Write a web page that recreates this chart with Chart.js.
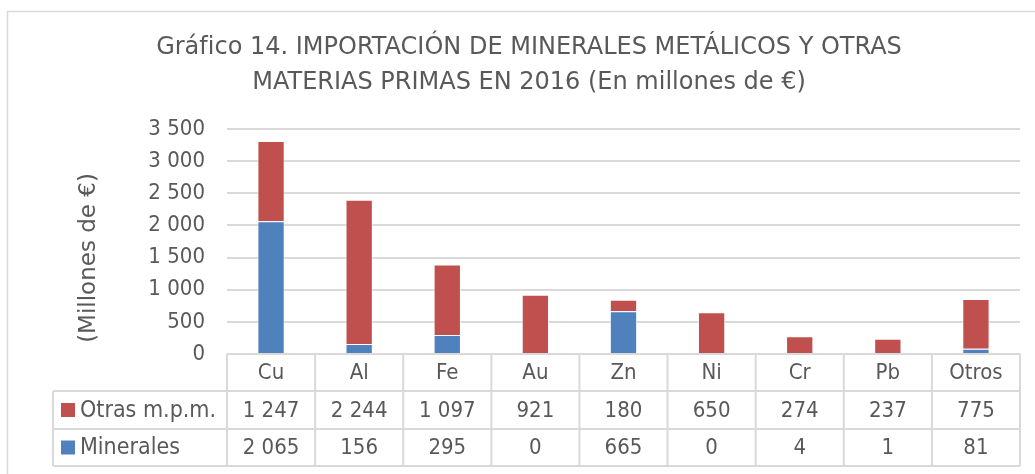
<!DOCTYPE html>
<html lang="es">
<head>
<meta charset="utf-8">
<title>Importación de minerales metálicos 2016</title>
<script src="https://cdn.jsdelivr.net/npm/chart.js@4/dist/chart.umd.min.js"></script>
<style>
  html, body { margin: 0; padding: 0; background: #fff; }
  #wrap { position: relative; width: 1035px; height: 474px; }
</style>
</head>
<body>
<div id="wrap"><canvas id="chart"></canvas></div>
<script>
// Importaciones 2016, millones de euros
const categories = ['Cu', 'Al', 'Fe', 'Au', 'Zn', 'Ni', 'Cr', 'Pb', 'Otros'];
const otrasMpm = [1247, 2244, 1097, 921, 180, 650, 274, 237, 775];
const minerales = [2065, 156, 295, 0, 665, 0, 4, 1, 81];
const yTicks = [0, 500, 1000, 1500, 2000, 2500, 3000, 3500];

const titleLines = [
    'Gráfico 14. IMPORTACIÓN DE MINERALES METÁLICOS Y OTRAS',
    'MATERIAS PRIMAS EN 2016 (En millones de €)'
];
const yTitle = '(Millones de €)';

const FONT = '"DejaVu Sans Condensed", "DejaVu Sans", sans-serif';
const WIDE = '"DejaVu Sans", sans-serif';
const TEXT = '#595959';
const LINE = '#d9d9d9';
const RED = '#c0504d';
const BLUE = '#4f81bd';

function fmt(n) {
    return String(n).replace(/\B(?=(\d{3})+(?!\d))/g, ' ');
}

// Frame, title, axis title and the data table under the plot
const decorations = {
    id: 'decorations',
    afterDraw(chart) {
        const ctx = chart.ctx;
        const area = chart.chartArea;
        const x = chart.scales.x;
        const colW = (area.right - area.left) / categories.length;
        const rowTop = area.bottom;
        const rowH = [37, 38, 37];
        const legendLeft = 53;

        ctx.save();

        // outer frame
        ctx.strokeStyle = LINE;
        ctx.lineWidth = 1.5;
        ctx.strokeRect(7.5, 11.5, 1040, 480);

        // title
        ctx.fillStyle = TEXT;
        ctx.font = '24px ' + WIDE;
        ctx.textAlign = 'center';
        ctx.textBaseline = 'middle';
        ctx.fillText(titleLines[0], 529, 48);
        ctx.fillText(titleLines[1], 529, 83);

        // y axis title
        ctx.save();
        ctx.translate(89, 258);
        ctx.rotate(-Math.PI / 2);
        ctx.font = '23px ' + WIDE;
        ctx.fillText(yTitle, 0, 0);
        ctx.restore();

        // table grid
        const y0 = rowTop;
        const y1 = y0 + rowH[0];
        const y2 = y1 + rowH[1];
        const y3 = y2 + rowH[2];
        ctx.strokeStyle = LINE;
        ctx.lineWidth = 2;
        ctx.beginPath();
        ctx.moveTo(area.left, y0); ctx.lineTo(area.right, y0);
        [y1, y2, y3].forEach(y => { ctx.moveTo(legendLeft, y); ctx.lineTo(area.right, y); });
        ctx.moveTo(legendLeft, y1); ctx.lineTo(legendLeft, y3);
        for (let i = 0; i <= categories.length; i++) {
            const cx = area.left + i * colW;
            ctx.moveTo(cx, y0); ctx.lineTo(cx, y3);
        }
        ctx.stroke();

        // table text
        ctx.fillStyle = TEXT;
        ctx.font = '22px ' + FONT;
        ctx.textAlign = 'center';
        categories.forEach((c, i) => {
            const cx = x.getPixelForValue(i);
            ctx.fillText(c, cx, (y0 + y1) / 2 + 1);
            ctx.fillText(fmt(otrasMpm[i]), cx, (y1 + y2) / 2 + 1);
            ctx.fillText(fmt(minerales[i]), cx, (y2 + y3) / 2 + 1);
        });

        // legend keys
        const rows = [['Otras m.p.m.', RED, (y1 + y2) / 2], ['Minerales', BLUE, (y2 + y3) / 2]];
        ctx.font = '23px ' + FONT;
        rows.forEach(([label, color, cy]) => {
            ctx.fillStyle = color;
            ctx.fillRect(61, cy - 7, 14, 14);
            ctx.fillStyle = TEXT;
            ctx.textAlign = 'left';
            ctx.fillText(label, 80, cy + 1);
        });

        ctx.restore();
    }
};

new Chart(document.getElementById('chart'), {
    type: 'bar',
    data: {
        labels: categories,
        datasets: [
            {
                label: 'Minerales',
                data: minerales,
                backgroundColor: BLUE,
                borderColor: 'rgba(255,255,255,0.7)',
                borderWidth: 1,
                barPercentage: 0.31,
                categoryPercentage: 1
            },
            {
                label: 'Otras m.p.m.',
                data: otrasMpm,
                backgroundColor: RED,
                borderColor: 'rgba(255,255,255,0.7)',
                borderWidth: 1,
                barPercentage: 0.31,
                categoryPercentage: 1
            }
        ]
    },
    options: {
        responsive: true,
        maintainAspectRatio: false,
        animation: false,
        layout: { padding: { left: 7, right: 15, top: 129, bottom: 474 - 354 } },
        plugins: {
            legend: { display: false },
            title: { display: false },
            tooltip: { enabled: false }
        },
        scales: {
            x: {
                stacked: true,
                display: false
            },
            y: {
                stacked: true,
                min: 0,
                max: 3500,
                afterBuildTicks: s => { s.ticks = yTicks.map(v => ({ value: v })); },
                afterFit: s => { s.width = 220; },
                border: { display: false },
                grid: { color: LINE, lineWidth: 2, drawTicks: false },
                ticks: {
                    color: TEXT,
                    font: { family: FONT, size: 22 },
                    padding: 22,
                    callback: v => fmt(v)
                }
            }
        }
    },
    plugins: [decorations]
});
</script>
</body>
</html>
